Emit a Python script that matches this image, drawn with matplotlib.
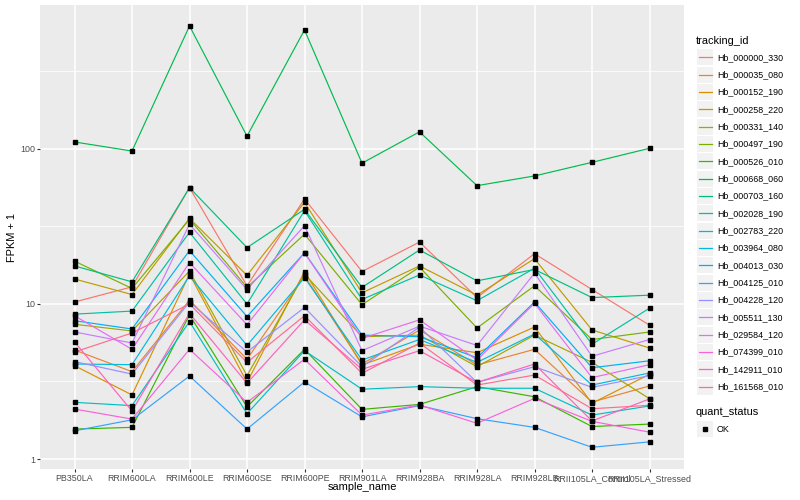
import numpy as np
import matplotlib.pyplot as plt
from matplotlib.lines import Line2D
from matplotlib.patches import Rectangle

plt.rcParams['font.family'] = ['Liberation Sans', 'DejaVu Sans']

samples = ['PB350LA', 'RRIM600LA', 'RRIM600LE', 'RRIM600SE', 'RRIM600PE', 'RRIM901LA',
           'RRIM928BA', 'RRIM928LA', 'RRIM928LB', 'RRII105LA_Control', 'RRII105LA_Stressed']

tracking_ids = ['Hb_000000_330', 'Hb_000035_080', 'Hb_000152_190', 'Hb_000258_220',
                'Hb_000331_140', 'Hb_000497_190', 'Hb_000526_010', 'Hb_000668_060',
                'Hb_000703_160', 'Hb_002028_190', 'Hb_002783_220', 'Hb_003964_080',
                'Hb_004013_030', 'Hb_004125_010', 'Hb_004228_120', 'Hb_005511_130',
                'Hb_029584_120', 'Hb_074399_010', 'Hb_142911_010', 'Hb_161568_010']

# ggplot hue palette, 20 levels
colors = ['#F8766D', '#EA8331', '#D89000', '#C09B00', '#A3A500', '#7CAE00', '#39B600',
          '#00BB4E', '#00BF7D', '#00C1A3', '#00BFC4', '#00BAE0', '#00B0F6', '#35A2FF',
          '#9590FF', '#C77CFF', '#E76BF3', '#FA62DB', '#FF62BC', '#FF6C91']

# FPKM + 1 per sample
hb_000000_330 = [10.3, 12.9, 56.3, 13.1, 47.6, 16.2, 25.1, 11.0, 21.1, 12.4, 7.3]
hb_000035_080 = [5.05, 3.66, 10.6, 4.4, 15.2, 4.1, 6.8, 4.04, 5.1, 2.33, 2.96]
hb_000152_190 = [4.0, 2.59, 15.6, 3.12, 16.2, 4.04, 5.5, 4.85, 7.1, 2.29, 3.52]
hb_000258_220 = [14.5, 11.5, 35.7, 15.3, 45.3, 11.8, 17.6, 11.4, 19.6, 6.8, 5.2]
hb_000331_140 = [7.4, 6.7, 16.3, 3.45, 15.6, 6.15, 6.3, 3.94, 6.3, 4.2, 2.45]
hb_000497_190 = [18.9, 12.6, 35.2, 12.8, 28.2, 9.9, 17.3, 7.0, 13.1, 5.9, 6.6]
hb_000526_010 = [1.56, 1.60, 8.5, 2.17, 5.1, 2.09, 2.25, 2.93, 2.52, 1.62, 1.68]
hb_000668_060 = [111, 97, 622, 121, 586, 81, 129, 58, 67, 82, 101]
hb_000703_160 = [17.6, 13.9, 56.3, 23.1, 40.8, 12.8, 22.3, 14.1, 16.7, 11.0, 11.4]
hb_002028_190 = [8.6, 9.0, 29.0, 10.0, 40.0, 10.7, 15.4, 10.5, 17.0, 5.5, 9.4]
hb_002783_220 = [2.32, 2.21, 7.7, 1.96, 5.0, 2.82, 2.93, 2.86, 2.86, 1.92, 2.20]
hb_003964_080 = [4.1, 4.06, 15.2, 5.4, 14.8, 4.35, 5.9, 4.2, 6.4, 3.0, 3.59]
hb_004013_030 = [7.8, 6.9, 22.1, 8.3, 21.4, 6.3, 6.15, 4.5, 10.3, 3.88, 4.3]
hb_004125_010 = [1.52, 1.79, 3.43, 1.56, 3.14, 1.87, 2.21, 1.82, 1.60, 1.19, 1.29]
hb_004228_120 = [4.25, 3.53, 10.3, 4.9, 9.5, 3.94, 7.1, 3.12, 3.94, 2.90, 3.45]
hb_005511_130 = [6.6, 5.6, 32.7, 12.4, 32.0, 5.0, 7.2, 5.4, 15.8, 4.6, 5.9]
hb_029584_120 = [8.4, 5.1, 18.5, 7.35, 21.4, 6.0, 7.9, 4.35, 10.1, 3.35, 4.06]
hb_074399_010 = [2.10, 1.81, 5.1, 2.32, 4.4, 1.92, 2.23, 1.70, 2.46, 1.75, 1.49]
hb_142911_010 = [5.7, 2.04, 8.7, 3.08, 7.9, 3.79, 5.0, 3.12, 4.1, 1.76, 2.44]
hb_161568_010 = [4.9, 6.5, 10.0, 4.2, 8.4, 3.57, 5.6, 3.0, 3.48, 2.11, 2.22]

series = [hb_000000_330, hb_000035_080, hb_000152_190, hb_000258_220, hb_000331_140,
          hb_000497_190, hb_000526_010, hb_000668_060, hb_000703_160, hb_002028_190,
          hb_002783_220, hb_003964_080, hb_004013_030, hb_004125_010, hb_004228_120,
          hb_005511_130, hb_029584_120, hb_074399_010, hb_142911_010, hb_161568_010]

W, H = 800, 500
fig = plt.figure(figsize=(8, 5), dpi=100)
ax = fig.add_axes([40 / W, 31 / H, 644 / W, 464 / H])
ax.set_facecolor('#EBEBEB')
ax.set_yscale('log')
ax.set_ylim(0.862, 849)
ax.set_xlim(-0.6, len(samples) - 0.4)

x = np.arange(len(samples))
for vals, c in zip(series, colors):
    ax.plot(x, vals, color=c, lw=0.85, zorder=2)
for vals in series:
    ax.plot(x, vals, ls='none', marker='s', ms=2.6, color='black', zorder=3)

ax.set_yticks([1, 10, 100])
ax.set_yticklabels(['1', '10', '100'])
ax.set_yticks([10 ** 0.5, 10 ** 1.5, 10 ** 2.5], minor=True)
ax.set_yticklabels([], minor=True)
ax.set_xticks(x)
ax.set_xticklabels(samples)
ax.tick_params(which='major', color='#333333', length=2.2, width=0.8,
               labelsize=6.4, labelcolor='#4D4D4D', pad=1.5)
ax.tick_params(which='minor', length=0)
ax.grid(which='major', color='white', lw=1.1)
ax.grid(which='minor', axis='y', color='white', lw=0.55)
ax.set_axisbelow(True)
for s in ax.spines.values():
    s.set_visible(False)

fig.text(362 / W, 1 - 487 / H, 'sample_name', ha='center', va='center', fontsize=7.9)
fig.text(12 / W, 1 - 237 / H, 'FPKM + 1', ha='center', va='center', fontsize=7.9, rotation=90)

# legend drawn by hand, ggplot style
def fx(px):
    return px / W

def fy(py):
    return 1 - py / H

fig.text(fx(696), fy(41), 'tracking_id', ha='left', va='center', fontsize=7.9)
for i, (name, c) in enumerate(zip(tracking_ids, colors)):
    cy = 57.3 + i * 17.33
    fig.add_artist(Rectangle((fx(697), fy(cy + 8)), 16 / W, 16 / H,
                             transform=fig.transFigure, facecolor='#F2F2F2', edgecolor='none'))
    fig.add_artist(Line2D([fx(699), fx(712)], [fy(cy), fy(cy)], transform=fig.transFigure,
                          color=c, lw=0.9))
    fig.text(fx(717), fy(cy), name, ha='left', va='center', fontsize=6.4)

fig.text(fx(696), fy(412), 'quant_status', ha='left', va='center', fontsize=7.9)
fig.add_artist(Rectangle((fx(697), fy(437)), 16 / W, 16 / H,
                         transform=fig.transFigure, facecolor='#F2F2F2', edgecolor='none'))
fig.add_artist(Line2D([fx(705)], [fy(429)], transform=fig.transFigure, ls='none',
                      marker='s', ms=2.6, color='black'))
fig.text(fx(717), fy(429), 'OK', ha='left', va='center', fontsize=6.4)

fig.savefig('out.png', dpi=100)
